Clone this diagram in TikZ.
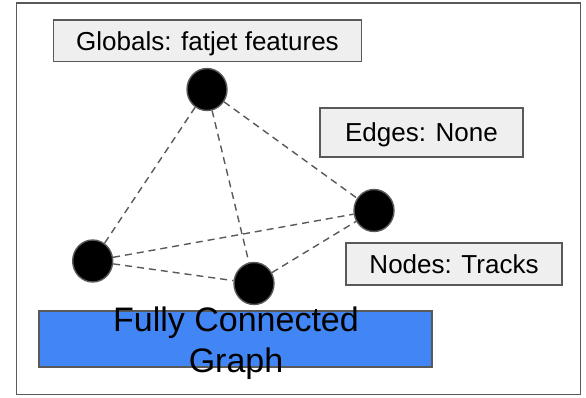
\documentclass[tikz,border=0pt]{standalone}
\usepackage{fontspec}
\setmainfont{Liberation Sans}
\usetikzlibrary{shapes.geometric}
\definecolor{edgegray}{HTML}{595959}
\definecolor{boxfill}{HTML}{EFEFEF}
\definecolor{gblue}{HTML}{4285F4}
\begin{document}
\begin{tikzpicture}[x=1pt,y=-1pt,
  labelbox/.style={draw=edgegray,fill=boxfill,line width=1.4pt,inner sep=0pt,
    font=\fontsize{26}{30}\selectfont,text height=18.6pt,text depth=0pt},
  vtx/.style={ellipse,draw=edgegray,fill=black,line width=1.4pt,minimum width=40pt,minimum height=42pt,inner sep=0pt},
  link/.style={draw=edgegray,dash pattern=on 7pt off 5pt,line width=1.4pt}]
\useasboundingbox (0,0) rectangle (586,398);
\draw[edgegray,line width=1.6pt] (16.5,3.3) rectangle (580.5,394.5);
% label boxes
\node[labelbox,minimum width=308pt,minimum height=41.5pt] (glob) at (207.5,40.75) {Globals: fatjet features};
\node[labelbox,minimum width=203pt,minimum height=49pt] (edges) at (421.5,132.5) {Edges: None};
\node[labelbox,minimum width=216pt,minimum height=42pt] (nodes) at (454,264) {Nodes: Tracks};
% blue bar
\node[draw=edgegray,fill=gblue,line width=1.4pt,minimum width=393pt,minimum height=56pt,inner sep=0pt] (bar) at (235.5,339) {};
\node[anchor=base,align=center,font=\fontsize{34}{41}\selectfont,inner sep=0pt] (bartext) at (236,372) {Fully Connected\\Graph};
% vertices
\node[vtx] (vt) at (207,89.5) {};
\node[vtx] (vr) at (374,210.5) {};
\node[vtx] (vl) at (92.7,261) {};
\node[vtx] (vb) at (254,283.5) {};
% dashed edges
\draw[link] (vt) -- (vl);
\draw[link] (vt) -- (vb);
\draw[link] (vt) -- (vr);
\draw[link] (vl) -- (vr);
\draw[link] (vl) -- (vb);
\draw[link] (vb) -- (vr);
\end{tikzpicture}
\end{document}
